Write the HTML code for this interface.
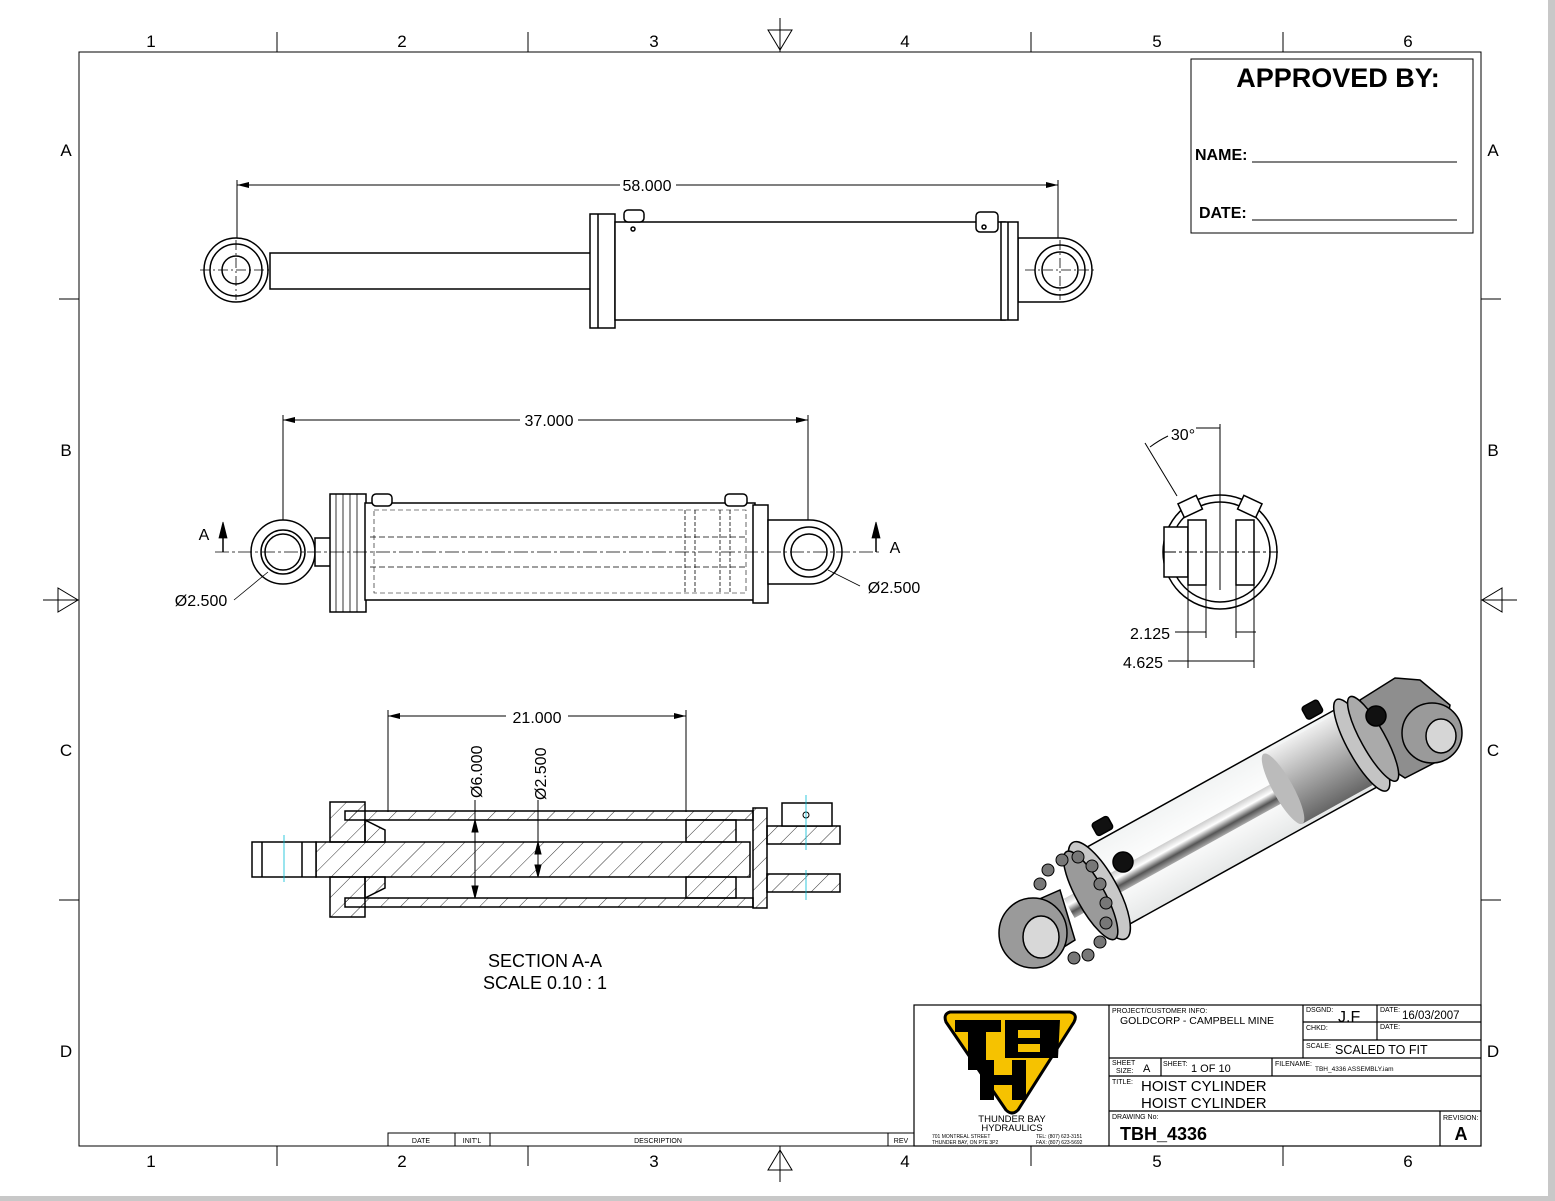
<!DOCTYPE html>
<html><head><meta charset="utf-8"><style>
html,body{margin:0;padding:0;background:#fff}
svg{display:block}
text{font-family:"Liberation Sans",Arial,sans-serif;fill:#000}
</style></head><body>
<svg width="1555" height="1201" viewBox="0 0 1555 1201" xmlns="http://www.w3.org/2000/svg">
<defs>
<linearGradient id="gr" x1="0" y1="0" x2="0" y2="1"><stop offset="0" stop-color="#eee"/><stop offset=".5" stop-color="#aaa"/><stop offset="1" stop-color="#666"/></linearGradient>
<linearGradient id="rod" x1="0" y1="0" x2="0" y2="1"><stop offset="0" stop-color="#ccc"/><stop offset=".35" stop-color="#fff"/><stop offset=".7" stop-color="#555"/><stop offset="1" stop-color="#aaa"/></linearGradient>
<linearGradient id="tube" x1="0" y1="0" x2="0" y2="1"><stop offset="0" stop-color="#f2f4f4"/><stop offset=".5" stop-color="#fff"/><stop offset="1" stop-color="#e6e8e8"/></linearGradient>
<pattern id="hatch" width="14" height="14" patternUnits="userSpaceOnUse" patternTransform="rotate(45)"><line x1="0" y1="0" x2="0" y2="14" stroke="#000" stroke-width="0.8"/></pattern>
</defs>
<rect width="1555" height="1201" fill="#fff"/>
<rect x="1548" y="0" width="7" height="1201" fill="#c8c8c8"/>
<rect x="0" y="1196" width="1555" height="5" fill="#c8c8c8"/>
<!-- frame -->
<rect x="79" y="52" width="1402" height="1094" fill="none" stroke="#000" stroke-width="1"/>
<g stroke="#000" stroke-width="1">
<line x1="277" y1="32" x2="277" y2="52"/><line x1="528" y1="32" x2="528" y2="52"/><line x1="1031" y1="32" x2="1031" y2="52"/><line x1="1283" y1="32" x2="1283" y2="52"/>
<line x1="277" y1="1146" x2="277" y2="1166"/><line x1="528" y1="1146" x2="528" y2="1166"/><line x1="1031" y1="1146" x2="1031" y2="1166"/><line x1="1283" y1="1146" x2="1283" y2="1166"/>
<line x1="59" y1="299" x2="79" y2="299"/><line x1="59" y1="900" x2="79" y2="900"/>
<line x1="1481" y1="299" x2="1501" y2="299"/><line x1="1481" y1="900" x2="1501" y2="900"/>
<line x1="780" y1="18" x2="780" y2="52"/><polygon points="768,30 792,30 780,50" fill="none"/>
<line x1="780" y1="1146" x2="780" y2="1182"/><polygon points="768,1170 792,1170 780,1150" fill="none"/>
<line x1="43" y1="600" x2="79" y2="600"/><polygon points="58,588 58,612 78,600" fill="none"/>
<line x1="1481" y1="600" x2="1517" y2="600"/><polygon points="1502,588 1502,612 1482,600" fill="none"/>
</g>
<g font-size="17" text-anchor="middle">
<text x="151" y="47">1</text><text x="402" y="47">2</text><text x="654" y="47">3</text><text x="905" y="47">4</text><text x="1157" y="47">5</text><text x="1408" y="47">6</text>
<text x="151" y="1167">1</text><text x="402" y="1167">2</text><text x="654" y="1167">3</text><text x="905" y="1167">4</text><text x="1157" y="1167">5</text><text x="1408" y="1167">6</text>
<text x="66" y="156">A</text><text x="66" y="456">B</text><text x="66" y="756">C</text><text x="66" y="1057">D</text>
<text x="1493" y="156">A</text><text x="1493" y="456">B</text><text x="1493" y="756">C</text><text x="1493" y="1057">D</text>
</g>
<!-- approved box -->
<rect x="1191" y="59" width="282" height="174" fill="none" stroke="#000"/>
<text x="1338" y="87" font-size="27" font-weight="bold" text-anchor="middle">APPROVED BY:</text>
<text x="1195" y="160" font-size="16" font-weight="bold">NAME:</text>
<line x1="1252" y1="162" x2="1457" y2="162" stroke="#000"/>
<text x="1199" y="218" font-size="16" font-weight="bold">DATE:</text>
<line x1="1252" y1="220" x2="1457" y2="220" stroke="#000"/>

<!-- TOP VIEW -->
<g stroke="#000" stroke-width="1.5" fill="#fff">
<line x1="237" y1="180" x2="237" y2="240" stroke-width="1"/><line x1="1058" y1="180" x2="1058" y2="240" stroke-width="1"/>
<line x1="237" y1="185" x2="620" y2="185" stroke-width="1"/><line x1="676" y1="185" x2="1058" y2="185" stroke-width="1"/>
<polygon points="237,185 249,182 249,188" fill="#000" stroke="none"/><polygon points="1058,185 1046,182 1046,188" fill="#000" stroke="none"/>
<rect x="270" y="253" width="322" height="36"/>
<circle cx="236" cy="270" r="32"/><circle cx="236" cy="270" r="26"/><circle cx="236" cy="270" r="14"/>
<path d="M1018,238 L1060,238 A32,32 0 1 1 1060,302 L1018,302 Z"/>
<circle cx="1060" cy="270" r="25"/><circle cx="1060" cy="270" r="18"/>
<rect x="590" y="214" width="25" height="114"/><line x1="598" y1="214" x2="598" y2="328"/>
<rect x="615" y="222" width="390" height="98"/>
<rect x="1001" y="222" width="17" height="98"/><line x1="1008" y1="222" x2="1008" y2="320"/>
<rect x="624" y="210" width="20" height="12" rx="4"/><rect x="976" y="212" width="22" height="20" rx="4"/>
<circle cx="633" cy="229" r="2"/><circle cx="984" cy="227" r="2"/>
</g>
<g stroke="#000" stroke-width="0.8" stroke-dasharray="10,3,2,3"><line x1="200" y1="270" x2="272" y2="270"/><line x1="236" y1="240" x2="236" y2="300"/><line x1="1025" y1="270" x2="1095" y2="270"/><line x1="1060" y1="240" x2="1060" y2="300"/></g>
<text x="647" y="191" font-size="16" text-anchor="middle">58.000</text>

<!-- MIDDLE VIEW -->
<g stroke="#000" stroke-width="1" fill="none">
<line x1="283" y1="415" x2="283" y2="520"/><line x1="808" y1="415" x2="808" y2="520"/>
<line x1="283" y1="420" x2="520" y2="420"/><line x1="578" y1="420" x2="808" y2="420"/>
<polygon points="283,420 295,417 295,423" fill="#000" stroke="none"/><polygon points="808,420 796,417 796,423" fill="#000" stroke="none"/>
</g>
<g stroke="#000" stroke-width="1.5" fill="#fff">
<circle cx="283" cy="552" r="32"/><circle cx="283" cy="552" r="22"/><circle cx="283" cy="552" r="18"/>
<rect x="315" y="538" width="18" height="28"/>
<rect x="330" y="494" width="36" height="118"/>
<rect x="365" y="503" width="390" height="97"/>
<rect x="374" y="510" width="372" height="83" stroke-width="0.6" stroke-dasharray="5,3"/>
<rect x="753" y="505" width="15" height="98"/>
<path d="M768,520 L810,520 A32,32 0 1 1 810,584 L768,584 Z"/>
<circle cx="809" cy="552" r="25"/><circle cx="809" cy="552" r="18"/>
<rect x="372" y="494" width="20" height="12" rx="4"/><rect x="725" y="494" width="22" height="12" rx="4"/>
</g>
<g stroke="#000" stroke-width="0.8">
<line x1="336" y1="494" x2="336" y2="612"/><line x1="343" y1="494" x2="343" y2="612"/><line x1="350" y1="494" x2="350" y2="612"/><line x1="357" y1="494" x2="357" y2="612"/>
<line x1="685" y1="510" x2="685" y2="593" stroke-dasharray="4,2"/><line x1="695" y1="510" x2="695" y2="593" stroke-dasharray="4,2"/><line x1="720" y1="510" x2="720" y2="593" stroke-dasharray="4,2"/><line x1="730" y1="510" x2="730" y2="593" stroke-dasharray="4,2"/>
<line x1="370" y1="537" x2="745" y2="537" stroke-dasharray="6,3"/><line x1="370" y1="567" x2="745" y2="567" stroke-dasharray="6,3"/>
<line x1="215" y1="552" x2="882" y2="552" stroke-dasharray="14,3,3,3"/>
<line x1="223" y1="552" x2="223" y2="530" stroke-width="1.5"/><polygon points="223,522 219,538 227,538" fill="#000"/>
<line x1="876" y1="552" x2="876" y2="530" stroke-width="1.5"/><polygon points="876,522 872,538 880,538" fill="#000"/>
<line x1="234" y1="600" x2="268" y2="572"/><line x1="860" y1="586" x2="828" y2="570"/>
</g>
<text x="204" y="540" font-size="16" text-anchor="middle">A</text>
<text x="895" y="553" font-size="16" text-anchor="middle">A</text>
<text x="201" y="606" font-size="16" text-anchor="middle">Ø2.500</text>
<text x="894" y="593" font-size="16" text-anchor="middle">Ø2.500</text>
<text x="549" y="426" font-size="16" text-anchor="middle">37.000</text>

<!-- END VIEW -->
<g stroke="#000" stroke-width="1.5" fill="#fff">
<circle cx="1220" cy="552" r="57"/>
<circle cx="1220" cy="552" r="50"/>
<rect x="1180" y="499" width="20" height="15" transform="rotate(-25 1190 506)"/>
<rect x="1240" y="499" width="20" height="15" transform="rotate(25 1250 506)"/>
<rect x="1164" y="527" width="24" height="50"/>
<rect x="1188" y="520" width="18" height="65"/>
<rect x="1236" y="520" width="18" height="65"/>
</g>
<g stroke="#000" stroke-width="1" fill="none">
<line x1="1220" y1="424" x2="1220" y2="590"/><line x1="1164" y1="552" x2="1278" y2="552" stroke-dasharray="12,3,3,3"/>
<line x1="1145" y1="443" x2="1177" y2="496"/>
<path d="M1150,447 A110,110 0 0 1 1168,436"/><line x1="1196" y1="428" x2="1220" y2="428"/>
<line x1="1188" y1="585" x2="1188" y2="668"/><line x1="1206" y1="585" x2="1206" y2="638"/>
<line x1="1236" y1="585" x2="1236" y2="638"/><line x1="1254" y1="585" x2="1254" y2="668"/>
<line x1="1175" y1="632" x2="1206" y2="632"/><line x1="1236" y1="632" x2="1256" y2="632"/>
<line x1="1168" y1="661" x2="1254" y2="661"/>
</g>
<text x="1183" y="440" font-size="16" text-anchor="middle">30°</text>
<text x="1150" y="639" font-size="16" text-anchor="middle">2.125</text>
<text x="1143" y="668" font-size="16" text-anchor="middle">4.625</text>

<!-- SECTION -->
<g stroke="#000" stroke-width="1" fill="none">
<line x1="388" y1="710" x2="388" y2="812"/><line x1="686" y1="710" x2="686" y2="812"/>
<line x1="388" y1="716" x2="506" y2="716"/><line x1="568" y1="716" x2="686" y2="716"/>
<polygon points="388,716 400,713 400,719" fill="#000" stroke="none"/><polygon points="686,716 674,713 674,719" fill="#000" stroke="none"/>
</g>
<text x="537" y="723" font-size="16" text-anchor="middle">21.000</text>
<g stroke="#000" stroke-width="1.5">
<rect x="345" y="811" width="408" height="9" fill="url(#hatch)"/>
<rect x="345" y="898" width="408" height="9" fill="url(#hatch)"/>
<rect x="316" y="842" width="434" height="35" fill="url(#hatch)"/>
<rect x="252" y="842" width="64" height="35" fill="#fff"/>
<line x1="262" y1="842" x2="262" y2="877"/><line x1="302" y1="842" x2="302" y2="877"/>
<rect x="330" y="802" width="35" height="40" fill="url(#hatch)"/>
<rect x="330" y="877" width="35" height="40" fill="url(#hatch)"/>
<polygon points="365,820 385,830 385,842 365,842" fill="url(#hatch)"/>
<polygon points="365,898 385,888 385,877 365,877" fill="url(#hatch)"/>
<rect x="686" y="820" width="50" height="22" fill="url(#hatch)"/>
<rect x="686" y="877" width="50" height="21" fill="url(#hatch)"/>
<rect x="753" y="808" width="14" height="100" fill="url(#hatch)"/>
<rect x="767" y="826" width="73" height="18" fill="url(#hatch)"/>
<rect x="767" y="874" width="73" height="18" fill="url(#hatch)"/>
<rect x="782" y="803" width="50" height="23" fill="#fff"/>
</g>
<g stroke="#000" stroke-width="1" fill="none">
<circle cx="806" cy="815" r="3"/>
<line x1="475" y1="820" x2="475" y2="898"/><polygon points="475,820 472,832 478,832" fill="#000"/><polygon points="475,898 472,886 478,886" fill="#000"/>
<line x1="538" y1="800" x2="538" y2="877"/><polygon points="538,842 535,854 541,854" fill="#000"/><polygon points="538,877 535,865 541,865" fill="#000"/>
<line x1="475" y1="800" x2="475" y2="820"/>
</g>
<g stroke="#00bcd4" stroke-width="0.8"><line x1="284" y1="835" x2="284" y2="882"/><line x1="806" y1="795" x2="806" y2="850"/><line x1="806" y1="870" x2="806" y2="900"/></g>
<text transform="translate(482,798) rotate(-90)" font-size="16">Ø6.000</text>
<text transform="translate(546,800) rotate(-90)" font-size="16">Ø2.500</text>
<text x="545" y="967" font-size="18" text-anchor="middle">SECTION  A-A</text>
<text x="545" y="989" font-size="18" text-anchor="middle">SCALE 0.10 : 1</text>

<!-- ISO -->
<g stroke="#000" stroke-width="1.5">
<!-- rear clevis -->
<path d="M1360,700 L1395,678 L1420,680 L1450,705 L1440,760 L1405,778 L1385,765 Z" fill="#8e8e8e"/>
<ellipse cx="1432" cy="733" rx="30" ry="30" fill="#9a9a9a"/>
<ellipse cx="1441" cy="736" rx="15" ry="17" fill="#d6d6d6"/>
<g transform="translate(1095,893) rotate(-29)">
<rect x="5" y="-44" width="305" height="88" fill="url(#tube)"/>
<rect x="-30" y="-10" width="260" height="22" fill="url(#rod)" stroke="none"/>
<rect x="215" y="-40" width="80" height="80" fill="url(#gr)" stroke="none"/>
<ellipse cx="215" cy="0" rx="10" ry="40" fill="#bbb" stroke="none"/>
<ellipse cx="305" cy="0" rx="14" ry="52" fill="#c4c4c4"/>
<ellipse cx="318" cy="0" rx="12" ry="48" fill="#aaa"/>
<ellipse cx="5" cy="0" rx="18" ry="55" fill="#c8c8c8"/>
<ellipse cx="-5" cy="0" rx="14" ry="50" fill="#9a9a9a"/>
<rect x="30" y="-62" width="18" height="14" rx="3" fill="#111"/>
<rect x="270" y="-62" width="18" height="14" rx="3" fill="#111"/>
</g>
<g fill="#777" stroke-width="1">
<circle cx="1048" cy="870" r="6"/><circle cx="1062" cy="860" r="6"/><circle cx="1078" cy="857" r="6"/><circle cx="1092" cy="866" r="6"/><circle cx="1100" cy="884" r="6"/><circle cx="1106" cy="903" r="6"/><circle cx="1106" cy="923" r="6"/><circle cx="1100" cy="942" r="6"/><circle cx="1088" cy="955" r="6"/><circle cx="1040" cy="884" r="6"/><circle cx="1074" cy="958" r="6"/>
</g>
<path d="M1010,912 L1060,890 L1075,940 L1035,965 Z" fill="#8a8a8a"/>
<ellipse cx="1033" cy="933" rx="34" ry="35" fill="#9a9a9a"/>
<ellipse cx="1041" cy="937" rx="18" ry="21" fill="#d8d8d8"/>
<circle cx="1123" cy="862" r="10" fill="#111"/><circle cx="1376" cy="716" r="10" fill="#111"/>
</g>

<!-- revision strip -->
<g stroke="#000" stroke-width="1" fill="none">
<rect x="388" y="1133" width="526" height="13"/>
<line x1="455" y1="1133" x2="455" y2="1146"/><line x1="490" y1="1133" x2="490" y2="1146"/><line x1="888" y1="1133" x2="888" y2="1146"/>
</g>
<g font-size="7" text-anchor="middle"><text x="421" y="1143">DATE</text><text x="472" y="1143">INIT'L</text><text x="658" y="1143">DESCRIPTION</text><text x="901" y="1143">REV</text></g>

<!-- title block -->
<g stroke="#000" stroke-width="1.2" fill="none">
<rect x="914" y="1005" width="567" height="141"/>
<line x1="1109" y1="1005" x2="1109" y2="1146"/>
<line x1="1303" y1="1005" x2="1303" y2="1058"/><line x1="1377" y1="1005" x2="1377" y2="1040"/>
<line x1="1303" y1="1022" x2="1481" y2="1022"/><line x1="1303" y1="1040" x2="1481" y2="1040"/>
<line x1="1109" y1="1058" x2="1481" y2="1058"/><line x1="1109" y1="1076" x2="1481" y2="1076"/>
<line x1="1109" y1="1111" x2="1481" y2="1111"/>
<line x1="1161" y1="1058" x2="1161" y2="1076"/><line x1="1272" y1="1058" x2="1272" y2="1076"/>
<line x1="1440" y1="1111" x2="1440" y2="1146"/>
</g>
<g font-size="7">
<text x="1112" y="1013">PROJECT/CUSTOMER INFO:</text>
<text x="1306" y="1012">DSGND:</text><text x="1380" y="1012">DATE:</text>
<text x="1306" y="1030">CHKD:</text><text x="1380" y="1029">DATE:</text>
<text x="1306" y="1048">SCALE:</text>
<text x="1112" y="1065">SHEET</text><text x="1116" y="1073">SIZE:</text>
<text x="1163" y="1066">SHEET:</text><text x="1275" y="1066">FILENAME:</text>
<text x="1112" y="1084">TITLE:</text>
<text x="1112" y="1119">DRAWING No:</text>
<text x="1443" y="1120">REVISION:</text>
<text x="1315" y="1071" font-size="6.5">TBH_4336 ASSEMBLY.iam</text>
</g>
<text x="1120" y="1024" font-size="10.5">GOLDCORP - CAMPBELL MINE</text>
<text x="1338" y="1022" font-size="16">J.F</text>
<text x="1402" y="1019" font-size="11.5">16/03/2007</text>
<text x="1335" y="1054" font-size="12.5">SCALED TO FIT</text>
<text x="1143" y="1072" font-size="11">A</text>
<text x="1191" y="1072" font-size="11">1   OF  10</text>
<text x="1141" y="1091" font-size="15">HOIST CYLINDER</text>
<text x="1141" y="1108" font-size="15">HOIST CYLINDER</text>
<text x="1120" y="1140" font-size="18" font-weight="bold">TBH_4336</text>
<text x="1461" y="1140" font-size="18" font-weight="bold" text-anchor="middle">A</text>
<!-- logo -->
<path d="M950,1012 L1070,1012 Q1078,1014 1074,1022 L1018,1110 Q1012,1116 1006,1110 L946,1022 Q943,1014 950,1012 Z" fill="#f6c200" stroke="#000" stroke-width="3"/>
<g fill="#000">
<rect x="955" y="1020" width="46" height="12"/><rect x="968" y="1030" width="18" height="40"/>
<path d="M1005,1020 L1060,1020 L1058,1058 L1005,1058 Z"/>
<rect x="1018" y="1030" width="22" height="8" fill="#f6c200"/><rect x="1018" y="1044" width="22" height="8" fill="#f6c200"/>
<rect x="980" y="1060" width="14" height="40"/><rect x="1012" y="1060" width="14" height="40"/><rect x="980" y="1075" width="46" height="10"/>
</g>
<text x="1012" y="1122" font-size="9.5" text-anchor="middle">THUNDER BAY</text>
<text x="1012" y="1131" font-size="9.5" text-anchor="middle">HYDRAULICS</text>
<g font-size="5"><text x="932" y="1138">701 MONTREAL STREET</text><text x="932" y="1144">THUNDER BAY, ON P7E 3P2</text><text x="1036" y="1138">TEL: (807) 623-3151</text><text x="1036" y="1144">FAX: (807) 623-5692</text></g>
</svg>
</body></html>
